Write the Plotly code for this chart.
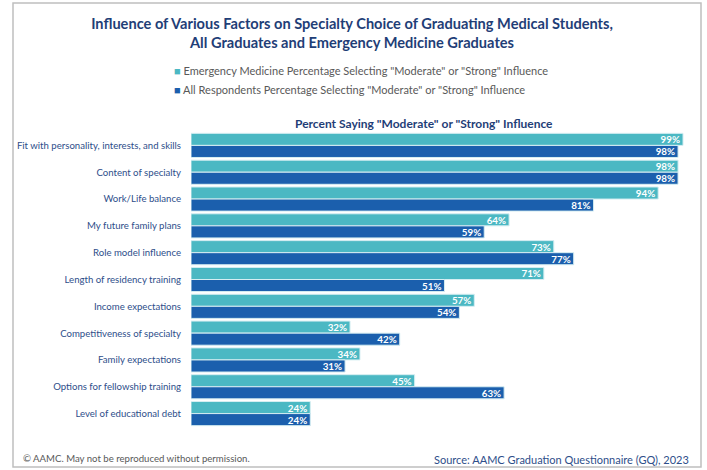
import plotly.graph_objects as go

categories = [
    "Fit with personality, interests, and skills",
    "Content of specialty",
    "Work/Life balance",
    "My future family plans",
    "Role model influence",
    "Length of residency training",
    "Income expectations",
    "Competitiveness of specialty",
    "Family expectations",
    "Options for fellowship training",
    "Level of educational debt",
]
em_values = [99, 98, 94, 64, 73, 71, 57, 32, 34, 45, 24]
all_values = [98, 98, 81, 59, 77, 51, 54, 42, 31, 63, 24]

em_name = 'Emergency Medicine Percentage Selecting "Moderate" or "Strong" Influence'
all_name = 'All Respondents Percentage Selecting "Moderate" or "Strong" Influence'

TEAL = "#4BB8C3"
BLUE = "#1B5FAD"
NAVY = "#1F3E77"
LABEL = "#2E4E8A"
FONT = "Lato"

W, H = 707, 470

fig = go.Figure()
for name, vals, color in [(em_name, em_values, TEAL), (all_name, all_values, BLUE)]:
    fig.add_trace(go.Bar(
        name=name,
        y=categories,
        x=vals,
        orientation="h",
        marker=dict(color=color, line=dict(color="#D6EEF2", width=1)),
        text=[f"{v}%" for v in vals],
        textposition="inside",
        insidetextanchor="end",
        textangle=0,
        textfont=dict(family=FONT, size=9.8, color="white", weight="bold"),
        showlegend=False,
    ))

# legend drawn as text lines so the small square sits right next to the label
legend_items = [(em_name, TEAL, 70), (all_name, BLUE, 90)]
annotations = [
    dict(
        text=f'<span style="color:{c}">■</span> {n}',
        x=172 / W, y=1 - yy / H, xref="paper", yref="paper",
        xanchor="left", yanchor="middle", showarrow=False,
        font=dict(family=FONT, size=11, color="#595959"),
    )
    for n, c, yy in legend_items
]
annotations += [
    dict(
        text='<b>Percent Saying "Moderate" or "Strong" Influence</b>',
        x=424 / W, y=1 - 123 / H, xref="paper", yref="paper",
        xanchor="center", yanchor="middle", showarrow=False,
        font=dict(family=FONT, size=12, color=NAVY),
    ),
    dict(
        text="© AAMC. May not be reproduced without permission.",
        x=21 / W, y=1 - 458 / H, xref="paper", yref="paper",
        xanchor="left", yanchor="middle", showarrow=False,
        font=dict(family=FONT, size=9.6, color="#595959"),
    ),
    dict(
        text="Source: AAMC Graduation Questionnaire (GQ), 2023",
        x=691 / W, y=1 - 459 / H, xref="paper", yref="paper",
        xanchor="right", yanchor="middle", showarrow=False,
        font=dict(family=FONT, size=11, color=LABEL),
    ),
]

fig.update_layout(
    width=W, height=H,
    margin=dict(l=0, r=0, t=0, b=0, autoexpand=False),
    paper_bgcolor="white",
    plot_bgcolor="white",
    barmode="group",
    bargap=0.1,
    bargroupgap=0,
    uniformtext=dict(minsize=8, mode="show"),
    font=dict(family=FONT, color=LABEL),
    showlegend=False,
    title=dict(
        text="<b>Influence of Various Factors on Specialty Choice of Graduating Medical Students,<br>"
             "All Graduates and Emergency Medicine Graduates</b>",
        x=352 / W, xanchor="center",
        y=1 - 29 / H, yanchor="middle",
        automargin=False,
        font=dict(family=FONT, size=14.6, color=NAVY),
    ),
    xaxis=dict(
        domain=[191 / W, 688 / W],
        range=[0, 100],
        visible=False,
        automargin=False,
    ),
    yaxis=dict(
        domain=[1 - 427 / H, 1 - 132 / H],
        autorange="reversed",
        showline=False,
        showgrid=False,
        ticks="",
        automargin=False,
        ticklabelstandoff=9,
        tickfont=dict(family=FONT, size=9.6, color=LABEL),
    ),
    shapes=[dict(
        type="rect", xref="paper", yref="paper",
        x0=13 / W, x1=701 / W, y0=1 - 467 / H, y1=1 - 3 / H,
        line=dict(color="#BFBFBF", width=1.5),
    )],
    annotations=annotations,
)

# the page body has a default 8px margin; drop it so the figure fills the window
fig.write_html(
    "out.html",
    config={"displayModeBar": False},
    post_script="document.body.style.margin='0';",
)
